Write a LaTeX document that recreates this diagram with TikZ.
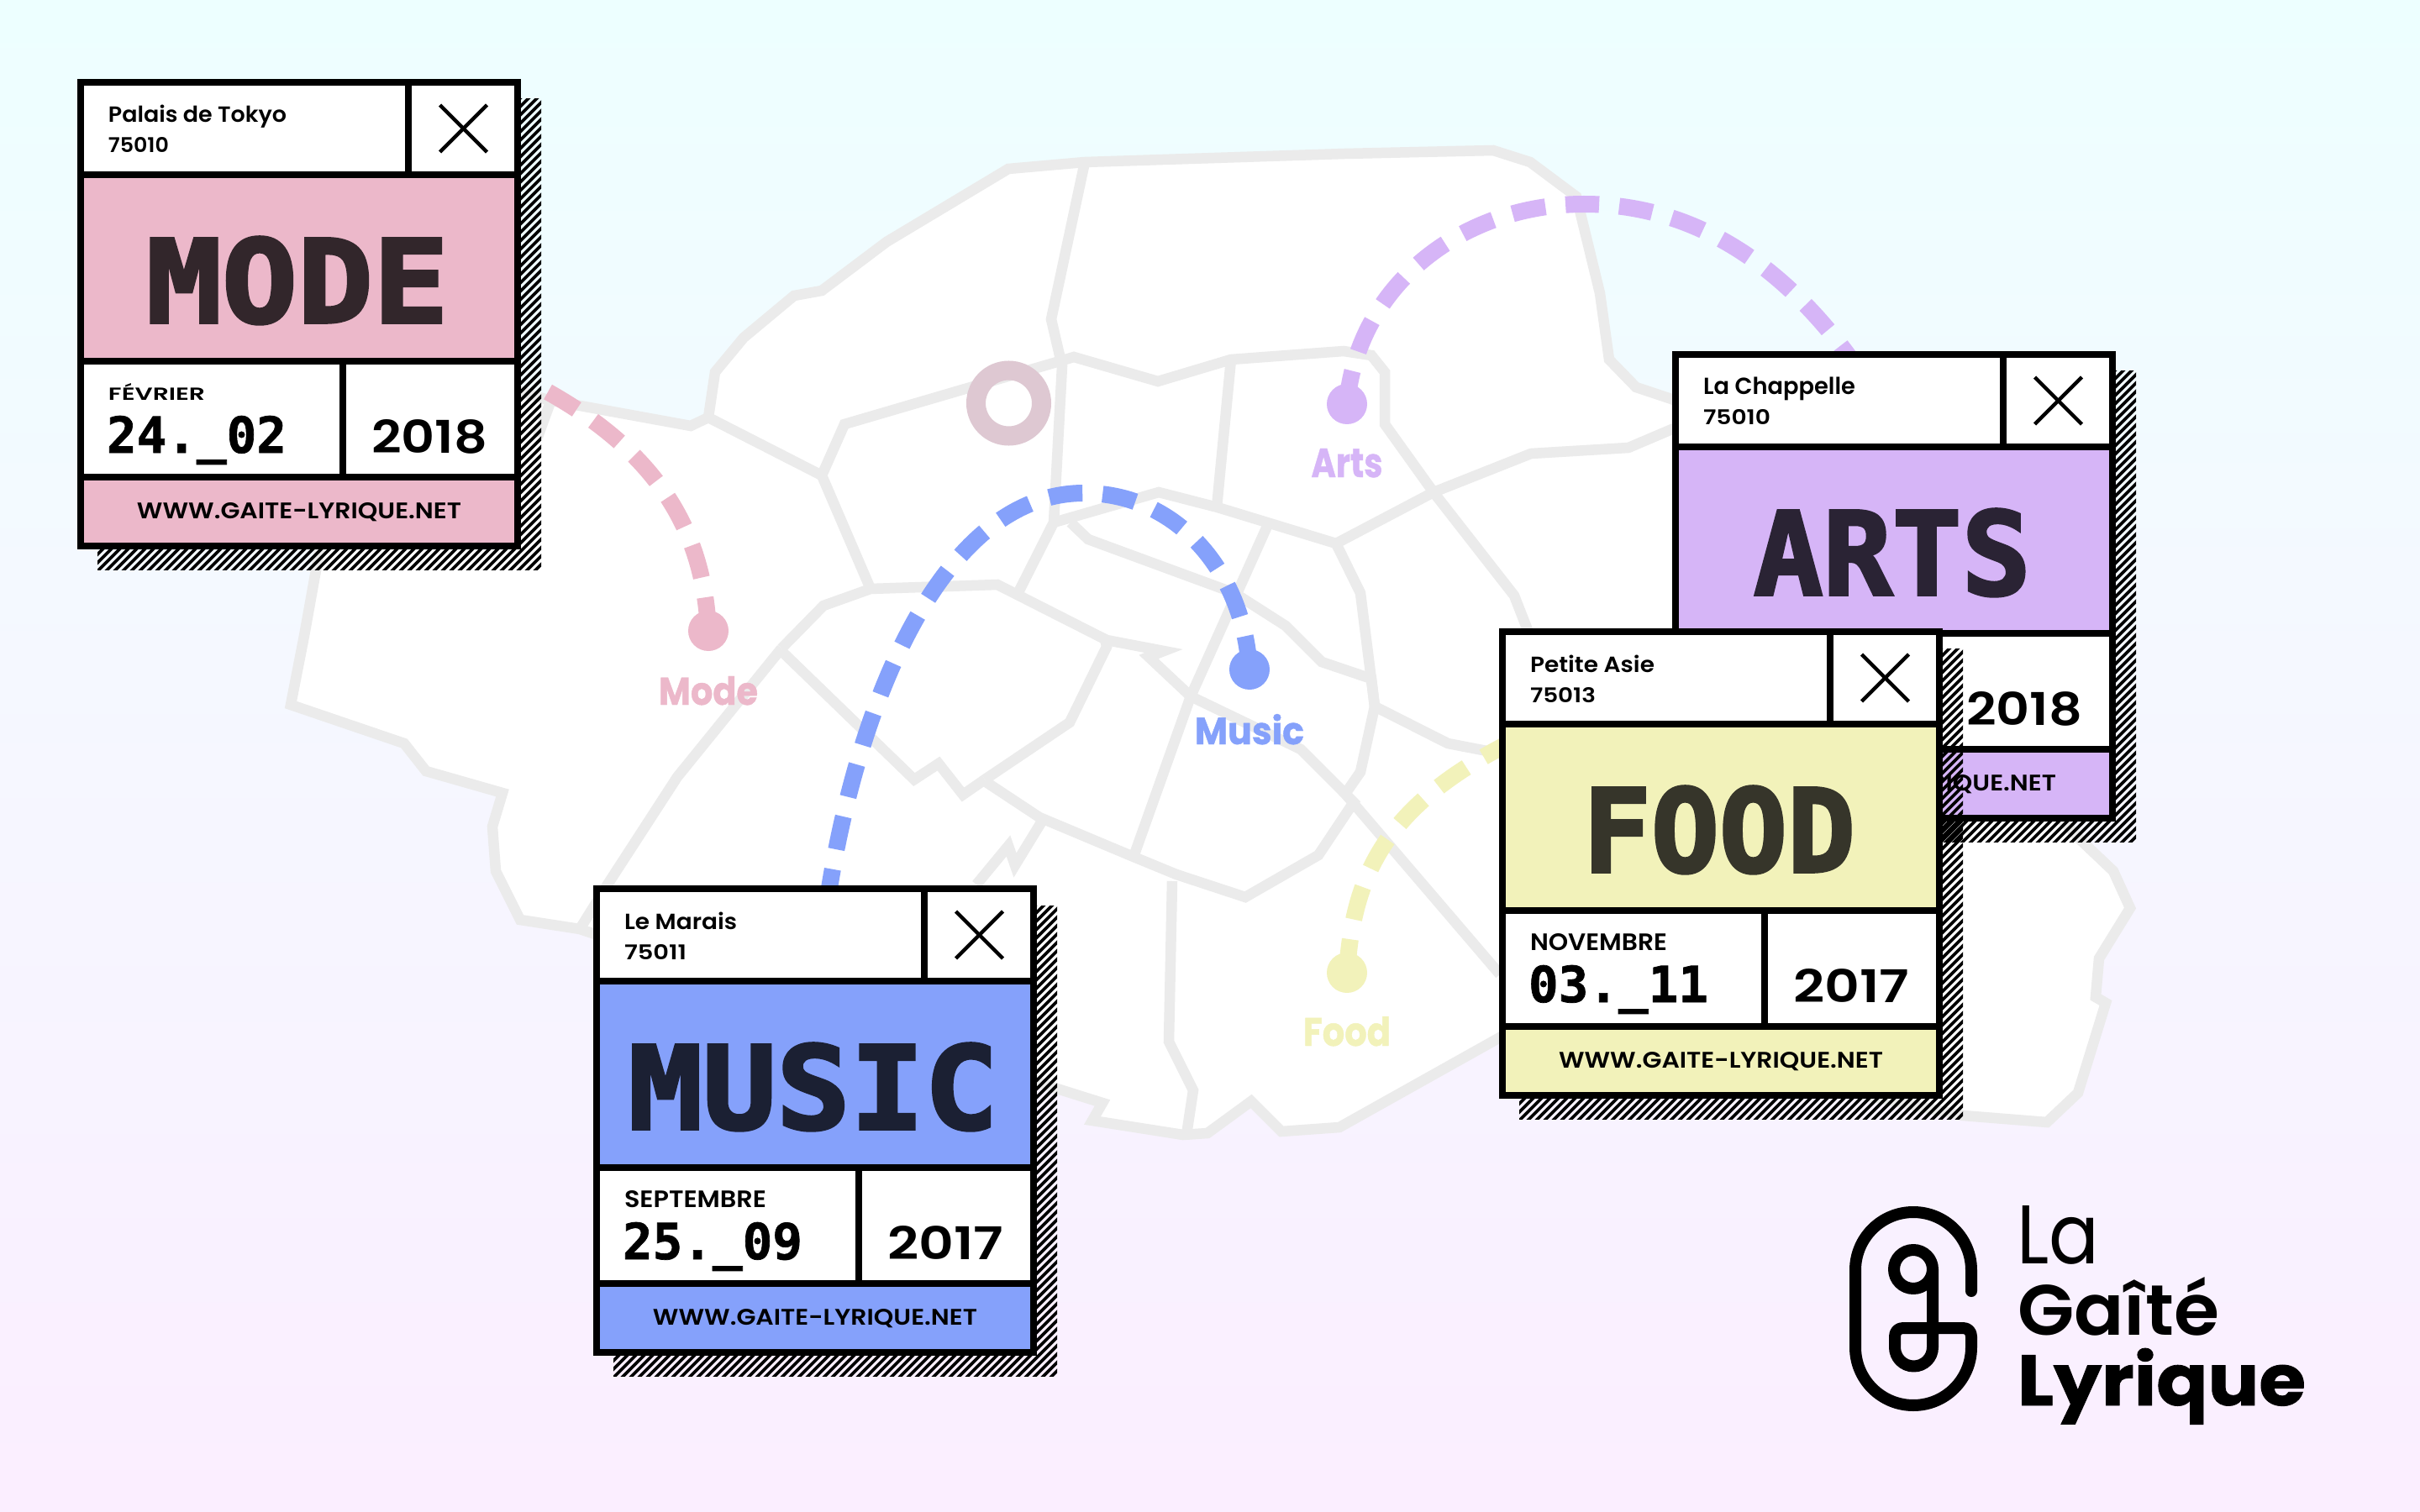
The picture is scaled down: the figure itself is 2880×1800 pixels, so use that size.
\documentclass[tikz,border=0pt]{standalone}
\usepackage{fontspec}
\usepackage{graphicx}
\setmainfont{Poppins}
\newfontfamily\medf{Poppins SemiBold}
\newfontfamily\semif{Poppins SemiBold}
\newfontfamily\boldf{Poppins Bold}
\newfontfamily\xboldf[FakeBold=1]{Poppins Bold}
\newfontfamily\monof[FakeBold=1.2]{DejaVu Sans Mono Bold}
\newfontfamily\titlef[FakeBold=2.6]{DejaVu Sans Mono Bold}
\newdimen\pxd \pxd=0.01cm
\definecolor{topbg}{HTML}{EDFFFF}
\definecolor{midbg}{HTML}{F5F8FF}
\definecolor{botbg}{HTML}{FBEEFF}
\definecolor{mapgray}{HTML}{EBEBEB}
\definecolor{cpink}{HTML}{ECB8CA}
\definecolor{cblue}{HTML}{85A1FB}
\definecolor{cpurple}{HTML}{D6B5F7}
\definecolor{cyellow}{HTML}{F2F2BA}
\definecolor{tpink}{HTML}{32262B}
\definecolor{tblue}{HTML}{1B2033}
\definecolor{tpurple}{HTML}{2A2334}
\definecolor{tyellow}{HTML}{36352A}
\definecolor{ringc}{HTML}{DEC8D2}
\newcommand\fitwh[3]{\resizebox{#1\pxd}{#2\pxd}{#3}}
\newcommand\fitw[2]{\resizebox{#1\pxd}{!}{#2}}
\tikzset{
  txt/.style={inner sep=0pt,outer sep=0pt,anchor=base west},
  txc/.style={inner sep=0pt,outer sep=0pt,anchor=base},
  mapline/.style={draw=mapgray,line width=12.5\pxd,line join=miter,miter limit=6},
  hatchline/.style={draw=black,line width=3.6\pxd},
  dashroute/.style={line width=20\pxd,dash pattern=on 40\pxd off 24\pxd},
  pin/.style={circle,inner sep=0pt,minimum size=48\pxd},
  crossline/.style={draw=black,line width=4.5\pxd},
  logoline/.style={draw=black,line width=14\pxd,line cap=round,line join=round},
}
% #1 name #2 x #3 y #4 fill #5 title colour #6 title #7 title width #8 place #9 place width
\newcommand\card[9]{\def\cn{#1}\def\cx{#2}\def\cy{#3}\def\cf{#4}\def\ct{#5}\def\ctt{#6}\def\ctw{#7}\def\cp{#8}\def\cpw{#9}\cardb}
% #1 zip #2 zip width #3 month #4 month width #5 date #6 year
\newcommand\cardb[6]{%
\begin{scope}[shift={(\cx,\cy)}]
  \begin{scope}
    \clip (24,24) rectangle (552,584);
    \foreach \i in {4,...,115} {\draw[hatchline] ({10*\i},0) -- (0,{10*\i});}
  \end{scope}
  \fill[black] (0,0) rectangle (528,560);
  \fill[white] (8,8) rectangle (390,110);
  \fill[white] (398,8) rectangle (520,110);
  \fill[\cf] (8,118) rectangle (520,332);
  \fill[white] (8,340) rectangle (312,470);
  \fill[white] (320,340) rectangle (520,470);
  \fill[\cf] (8,478) rectangle (520,552);
  \draw[crossline] (431.5,31) -- (487.5,87);
  \draw[crossline] (431.5,87) -- (487.5,31);
  \node[txt] (\cn-place) at (37,52) {\fitwh{\cpw}{20.5}{\medf\cp}};
  \node[txt] (\cn-zip) at (37,88) {\fitwh{#2}{18}{\medf #1}};
  \node[txc,text=\ct] (\cn-title) at (262,290) {\fitwh{\ctw}{102}{\titlef\ctt}};
  \ifnum#4>1
  \node[txt] (\cn-month) at (37,383) {\fitwh{#4}{20}{\medf #3}};
  \node[txt] (\cn-date) at (35,445) {\fitw{214}{\monof #5}};
  \fi
  \node[txt] (\cn-year) at (350,445) {\fitwh{138}{40}{\semif #6}};
  \node[txc] (\cn-url) at (264,523) {\fitwh{386}{19}{\semif WWW.GAITE-LYRIQUE.NET}};
\end{scope}}
\begin{document}
\begin{tikzpicture}[x=0.01cm,y=-0.01cm]
\useasboundingbox (0,0) rectangle (2880,1800);
% background
\shade[top color=topbg,bottom color=midbg] (0,0) rectangle (2880,800);
\shade[top color=midbg,bottom color=botbg] (0,800) rectangle (2880,1800);
% map
\path[mapline,fill=white] (1291,193) -- (1600,183) -- (1777,179) -- (1821,193) -- (1876,234) -- (1904,349) -- (1915,428) -- (1947,461) -- (1992,476) -- (2477,1001) -- (2515,1037) -- (2535,1081) -- (2498,1141) -- (2494,1187) -- (2506,1194) -- (2473,1301) -- (2436,1336) -- (2336,1328) -- (2200,1300) -- (1785,1235) -- (1594,1342) -- (1525,1347) -- (1489,1311) -- (1437,1349) -- (1408,1351) -- (1300,1334) -- (1312,1313) -- (1258,1296) -- (690,1106) -- (619,1095) -- (590,1037) -- (586,984) -- (598,944) -- (507,918) -- (481,885) -- (346,839) -- (362,757) -- (383,640) -- (600,460) -- (652,476) -- (822,507) -- (843,497) -- (851,443) -- (885,402) -- (945,352) -- (978,346) -- (1055,288) -- (1200,201) -- cycle;
\draw[mapline] (1291,193) -- (1251,380) -- (1264,436) -- (1254,622) -- (1210,709);
\draw[mapline] (843,497) -- (978,566) -- (1036,701);
\draw[mapline] (978,566) -- (1005,505) -- (1278,425) -- (1378,454) -- (1465,428) -- (1599,418) -- (1632,423) -- (1648,443) -- (1648,505) -- (1706,586) -- (1822,540) -- (1938,533) -- (1992,510);
\draw[mapline] (1818,750) -- (1802,709) -- (1706,586) -- (1590,647) -- (1449,604) -- (1379,586) -- (1254,622);
\draw[mapline] (1465,428) -- (1448,604);
\draw[mapline] (1590,647) -- (1619,706) -- (1636,841) -- (1723,885) -- (1785,897);
\draw[mapline] (1636,841) -- (1619,919) -- (1601,945) -- (1611,955) -- (1569,1018) -- (1482,1068) -- (1400,1041) -- (1349,1020) -- (1237,973) -- (1172,930);
\draw[mapline] (930,772) -- (980,721) -- (1036,701) -- (1187,696) -- (1317,762) -- (1385,775) -- (1367,782) -- (1417,829) -- (1548,892) -- (1601,945) -- (1785,1160);
\draw[mapline] (1510,622) -- (1417,829) -- (1349,1020);
\draw[mapline] (1274,622) -- (1295,642) -- (1469,706) -- (1530,745) -- (1573,788) -- (1632,808) -- (1636,841);
\draw[mapline] (930,772) -- (806,925) -- (723,1053) -- (690,1106);
\draw[mapline] (930,775) -- (1088,928) -- (1117,909) -- (1146,946) -- (1172,928);
\draw[mapline] (1172,928) -- (1273,860) -- (1317,770) -- (1315,760);
\draw[mapline] (1241,976) -- (1208,1030) -- (1200,1007) -- (1162,1053);
\draw[mapline] (1395,1049) -- (1391,1240) -- (1420,1298) -- (1412,1351);
\draw[mapline] (656,476) -- (640,520);
% ring
\node[circle,draw=ringc,line width=23\pxd,minimum size=78\pxd,inner sep=0pt] (ring) at (1200.5,480) {};
% pins
\node[pin,fill=cpink] (pinmode) at (843,751) {};
\node[pin,fill=cblue] (pinmusic) at (1487,797) {};
\node[pin,fill=cpurple] (pinarts) at (1603,481) {};
\node[pin,fill=cyellow] (pinfood) at (1603,1158) {};
\coordinate (endmode) at (640,460);
\coordinate (endmusic) at (985,1070);
\coordinate (endarts) at (2215,445);
\coordinate (endfood) at (1795,885);
\draw[dashroute,draw=cpink] (pinmode.center) .. controls (838,640) and (790,540) .. (endmode);
\draw[dashroute,draw=cblue] (pinmusic.center) .. controls (1480,680) and (1400,587) .. (1290,587) .. controls (1120,587) and (1020,840) .. (endmusic);
\draw[dashroute,draw=cpurple] (pinarts.center) .. controls (1615,340) and (1740,243) .. (1885,243) .. controls (2020,243) and (2130,320) .. (endarts);
\draw[dashroute,draw=cyellow] (pinfood.center) .. controls (1610,1040) and (1650,960) .. (endfood);
% labels
\node[txc,text=cpink] (lblmode) at (843,839) {\fitwh{118}{34}{\xboldf Mode}};
\node[txc,text=cblue] (lblmusic) at (1487,886) {\fitwh{130}{36}{\xboldf Music}};
\node[txc,text=cpurple] (lblarts) at (1603,568) {\fitwh{85}{34}{\xboldf Arts}};
\node[txc,text=cyellow] (lblfood) at (1603,1245) {\fitwh{104}{35}{\xboldf Food}};
% cards
\card{mode}{92}{94}{cpink}{tpink}{MODE}{360}{Palais de Tokyo}{212}{75010}{72}{FÉVRIER}{115}{24.\_02}{2018}
\card{arts}{1990}{418}{cpurple}{tpurple}{ARTS}{330}{La Chappelle}{181}{75010}{80}{}{1}{}{2018}
\card{food}{1784}{748}{cyellow}{tyellow}{FOOD}{324}{Petite Asie}{148}{75013}{78}{NOVEMBRE}{163}{03.\_11}{2017}
\card{music}{706}{1054}{cblue}{tblue}{MUSIC}{440}{Le Marais}{134}{75011}{74}{SEPTEMBRE}{169}{25.\_09}{2017}
% logo
\draw[logoline] (2346,1537) -- (2346,1512) arc[start angle=0,end angle=-180,radius=69] -- (2208,1604) arc[start angle=180,end angle=0,radius=69] -- (2346,1591) .. controls (2346,1585) and (2342,1581) .. (2336,1581) -- (2265,1581) .. controls (2259,1581) and (2255,1585) .. (2255,1591) -- (2255,1604) arc[start angle=180,end angle=0,radius=22.5] -- (2300,1511) arc[start angle=0,end angle=-360,radius=23];
\node[txt] (logola) at (2400,1504) {\fitwh{98}{69}{La}};
\node[txt] (logogaite) at (2401,1589) {\fitwh{240}{69}{\semif Gaîté}};
\node[txt] (logolyrique) at (2401,1673) {\fitwh{343}{68}{\xboldf Lyrique}};
\end{tikzpicture}
\end{document}
